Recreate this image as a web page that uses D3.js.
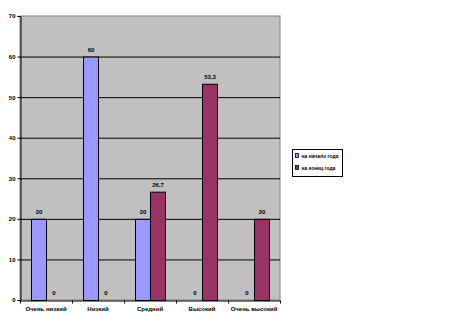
<!DOCTYPE html>
<html>
<head>
<meta charset="utf-8">
<script src="https://d3js.org/d3.v7.min.js"></script>
<style type="text/css">
  body { margin: 0; background: #fff; }
  text { font-family: "Liberation Sans", Arial, sans-serif; font-size: 6px; fill: #000; font-weight: bold; }
</style>
</head>
<body>
<svg id="chart" width="457" height="335"></svg>
<script>

const categories = ['Очень низкий', 'Низкий', 'Средний', 'Высокий', 'Очень высокий'];
const seriesNames = ['на начало года', 'на конец года'];
const startValues = [20, 60, 20, 0, 0];
const endValues = [0, 0, 26.7, 53.3, 20];
const yTicks = [0, 10, 20, 30, 40, 50, 60, 70];
const colors = ['#9999ff', '#993366'];

const chart = d3.select('#chart');
const plot = { left: 20, right: 280, top: 16, bottom: 300 };

const x = d3.scaleBand()
  .domain(categories)
  .range([plot.left, plot.right])
  .paddingInner(0)
  .paddingOuter(0);

const xs = d3.scaleBand()
  .domain(seriesNames)
  .range([11, x.bandwidth() - 11]);

const y = d3.scaleLinear().domain([0, 70]).range([plot.bottom, plot.top]);

// plot background
chart.append('rect')
  .attr('x', plot.left)
  .attr('y', plot.top)
  .attr('width', plot.right - plot.left)
  .attr('height', plot.bottom - plot.top)
  .attr('fill', '#c0c0c0')
  .attr('stroke', '#808080')
  .attr('stroke-width', 1);

// gridlines
chart.append('g')
  .selectAll('line')
  .data(yTicks.filter(d => d > 0 && d < 70))
  .enter().append('line')
  .attr('x1', plot.left)
  .attr('x2', plot.right)
  .attr('y1', d => y(d) + 0.5)
  .attr('y2', d => y(d) + 0.5)
  .attr('stroke', '#000')
  .attr('stroke-width', 1);

const fmt = v => String(v).replace('.', ',');

const series = [startValues, endValues];
series.forEach((vals, si) => {
  const g = chart.append('g');
  g.selectAll('rect')
    .data(vals)
    .enter().append('rect')
    .attr('x', (d, i) => x(categories[i]) + xs(seriesNames[si]) + 0.5)
    .attr('y', d => y(d) + 0.5)
    .attr('width', xs.bandwidth())
    .attr('height', d => y(0) - y(d))
    .attr('fill', colors[si])
    .attr('stroke', d => d > 0 ? '#000' : 'none')
    .attr('stroke-width', 1);

  g.selectAll('text')
    .data(vals)
    .enter().append('text')
    .attr('x', (d, i) => x(categories[i]) + xs(seriesNames[si]) + xs.bandwidth() / 2 + 0.5)
    .attr('y', d => y(d) - 5)
    .attr('text-anchor', 'middle')
    .text(d => fmt(d));
});

// y axis
const yAxis = d3.axisLeft(y).tickValues(yTicks).tickSize(3).tickPadding(2);
chart.append('g')
  .attr('transform', `translate(${plot.left + 0.5},0)`)
  .call(yAxis)
  .call(g => g.select('.domain').attr('stroke', '#000'))
  .call(g => g.selectAll('text').style('font-size', '6px').attr('font-family', null));

// x axis
const xAxis = d3.axisBottom(x).tickSize(0).tickPadding(6);
const xg = chart.append('g')
  .attr('transform', `translate(0,${plot.bottom + 0.5})`)
  .call(xAxis)
  .call(g => g.select('.domain').attr('stroke', '#000'))
  .call(g => g.selectAll('text').style('font-size', '6px').attr('font-family', null));

// x tick marks between categories
xg.selectAll('.sep')
  .data(categories.concat(['_end']))
  .enter().append('line')
  .attr('x1', (d, i) => plot.left + i * x.bandwidth() + 0.5)
  .attr('x2', (d, i) => plot.left + i * x.bandwidth() + 0.5)
  .attr('y1', 0)
  .attr('y2', 3)
  .attr('stroke', '#000');

// legend
const legend = chart.append('g').attr('transform', 'translate(292.5,149.5)');
legend.append('rect')
  .attr('width', 50)
  .attr('height', 27)
  .attr('fill', '#fff')
  .attr('stroke', '#000');

const items = legend.selectAll('.item')
  .data(seriesNames)
  .enter().append('g')
  .attr('transform', (d, i) => `translate(3,${4 + i * 12})`);

items.append('rect')
  .attr('width', 3)
  .attr('height', 4)
  .attr('fill', (d, i) => colors[i])
  .attr('stroke', '#000')
  .attr('stroke-width', 0.8);

items.append('text')
  .attr('x', 6)
  .attr('y', 4)
  .style('font-size', '5px')
  .text(d => d);

</script>
</body>
</html>
